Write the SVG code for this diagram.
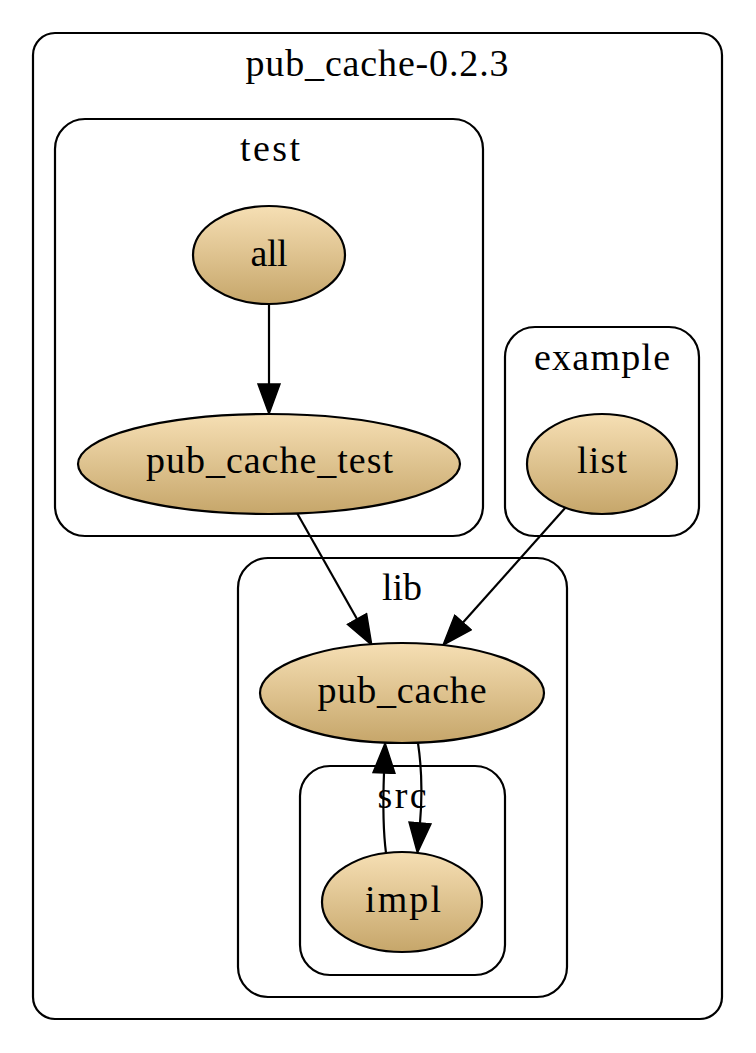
<svg xmlns="http://www.w3.org/2000/svg" width="756" height="1053" viewBox="0 0 756 1053">
<defs>
<linearGradient id="fillg" x1="0" y1="0" x2="0" y2="1">
<stop offset="0" stop-color="#f6dfb4"/>
<stop offset="1" stop-color="#c6a66a"/>
</linearGradient>
<marker id="arr" markerUnits="userSpaceOnUse" markerWidth="32" markerHeight="24" refX="0" refY="11" orient="auto" viewBox="-1 -1 32 24">
<path d="M0,0 L30,11 L0,22 Z" fill="#000" stroke="#000" stroke-width="1.5"/>
</marker>
<style>
.cl{fill:none;stroke:#000;stroke-width:2.2}
.nd{fill:url(#fillg);stroke:#000;stroke-width:2.2}
.ed{fill:none;stroke:#000;stroke-width:2.2;marker-end:url(#arr)}
text{font-family:"Liberation Serif","Times New Roman",serif;font-size:38px;text-anchor:middle;fill:#000}
</style>
</defs>
<rect width="756" height="1053" fill="#fff"/>
<g id="clusters">
<g id="cluster_root"><rect class="cl" x="33" y="33" width="689" height="986" rx="22"/><text x="377" y="76" textLength="263" lengthAdjust="spacing">pub_cache-0.2.3</text></g>
<g id="cluster_test"><rect class="cl" x="55" y="119" width="428" height="417" rx="30"/><text x="270" y="161" textLength="60" lengthAdjust="spacing">test</text></g>
<g id="cluster_example"><rect class="cl" x="505" y="327" width="194" height="209" rx="30"/><text x="602" y="370" textLength="136" lengthAdjust="spacing">example</text></g>
<g id="cluster_lib"><rect class="cl" x="238" y="558" width="329" height="439" rx="30"/><text x="402" y="600" textLength="40" lengthAdjust="spacing">lib</text></g>
<g id="cluster_src"><rect class="cl" x="300" y="766" width="205" height="209" rx="30"/><text x="402" y="808" textLength="49" lengthAdjust="spacing">src</text></g>
</g>
<g id="edges">
<path class="ed" d="M269,304 L269,384"/>
<path class="ed" d="M297,513 L357,619"/>
<path class="ed" d="M566,507 L463,622.6"/>
<path class="ed" d="M418,743 C422,770 422,800 420,823"/>
<path class="ed" d="M386,853 C383,830 383,800 384,773"/>
</g>
<g id="node_all"><ellipse class="nd" cx="269" cy="255" rx="76" ry="49"/><text x="269" y="266" textLength="37" lengthAdjust="spacing">all</text></g>
<g id="node_pub_cache_test"><ellipse class="nd" cx="269" cy="464" rx="191" ry="50"/><text x="269.5" y="473" textLength="247" lengthAdjust="spacing">pub_cache_test</text></g>
<g id="node_list"><ellipse class="nd" cx="602" cy="464" rx="75" ry="50"/><text x="602" y="473" textLength="50" lengthAdjust="spacing">list</text></g>
<g id="node_pub_cache"><ellipse class="nd" cx="402" cy="693" rx="142" ry="50"/><text x="402" y="703" textLength="169" lengthAdjust="spacing">pub_cache</text></g>
<g id="node_impl"><ellipse class="nd" cx="402" cy="902" rx="80" ry="50"/><text x="403" y="912" textLength="76" lengthAdjust="spacing">impl</text></g>
</svg>
